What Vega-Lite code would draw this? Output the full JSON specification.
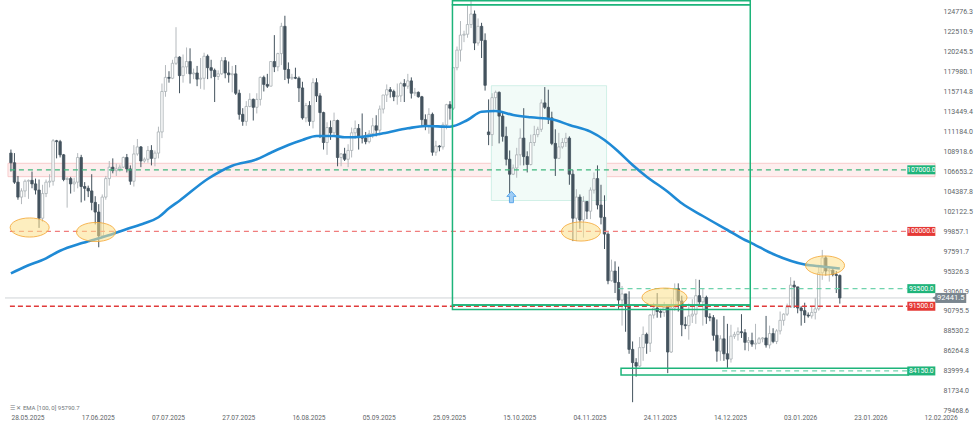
{
"$schema":"https://vega.github.io/schema/vega-lite/v6.json",
"width":940,"height":413,
"autosize":{"type":"none"},
"padding":{"left":0,"top":0,"right":37,"bottom":22},
"background":"#ffffff",
"config":{"view":{"stroke":null},"font":"Roboto","text":{"font":"Roboto"},
 "axis":{"ticks":false,"tickSize":0,"domain":false,"grid":false,"labelColor":"#606468","labelFont":"Roboto","labelOverlap":false,"labelBound":false,"labelFlush":false},
 "axisX":{"labelAlign":"left","labelBaseline":"top","labelPadding":1,"labelFontSize":6.6,"tickCount":40},
 "axisY":{"labelAlign":"left","labelBaseline":"middle","labelPadding":3,"labelOffset":-1.5,"labelFontSize":7,"tickCount":50}},
"datasets":{
"candles":[
{"d":"2025-05-28","o":108900,"h":109300,"l":106800,"c":107800},
{"d":"2025-05-29","o":107800,"h":108900,"l":105400,"c":105600},
{"d":"2025-05-30","o":105600,"h":106300,"l":103600,"c":103900},
{"d":"2025-05-31","o":103900,"h":104900,"l":103100,"c":104600},
{"d":"2025-06-01","o":104600,"h":105900,"l":103900,"c":105700},
{"d":"2025-06-02","o":105700,"h":105900,"l":103700,"c":105800},
{"d":"2025-06-03","o":105800,"h":106800,"l":104900,"c":105400},
{"d":"2025-06-04","o":105400,"h":106000,"l":104200,"c":104700},
{"d":"2025-06-05","o":104700,"h":105900,"l":100400,"c":101500},
{"d":"2025-06-06","o":101500,"h":105300,"l":101100,"c":104300},
{"d":"2025-06-07","o":104300,"h":105900,"l":103900,"c":105600},
{"d":"2025-06-08","o":105600,"h":106500,"l":105000,"c":105700},
{"d":"2025-06-09","o":105700,"h":110500,"l":105200,"c":110300},
{"d":"2025-06-10","o":110300,"h":110400,"l":108300,"c":110200},
{"d":"2025-06-11","o":110200,"h":110400,"l":108400,"c":108700},
{"d":"2025-06-12","o":108700,"h":108800,"l":105700,"c":105900},
{"d":"2025-06-13","o":105900,"h":106200,"l":102700,"c":106000},
{"d":"2025-06-14","o":106000,"h":106200,"l":104300,"c":105400},
{"d":"2025-06-15","o":105400,"h":106100,"l":104500,"c":105600},
{"d":"2025-06-16","o":105600,"h":108900,"l":104900,"c":108400},
{"d":"2025-06-17","o":108400,"h":108700,"l":103300,"c":105100},
{"d":"2025-06-18","o":105100,"h":105600,"l":103500,"c":104900},
{"d":"2025-06-19","o":104900,"h":105200,"l":103900,"c":104600},
{"d":"2025-06-20","o":104600,"h":106500,"l":102400,"c":103300},
{"d":"2025-06-21","o":103300,"h":104000,"l":100800,"c":102200},
{"d":"2025-06-22","o":102200,"h":103100,"l":98200,"c":99500},
{"d":"2025-06-23","o":99500,"h":104200,"l":99300,"c":103900},
{"d":"2025-06-24","o":103900,"h":106300,"l":103600,"c":106000},
{"d":"2025-06-25","o":106000,"h":108000,"l":105200,"c":107300},
{"d":"2025-06-26","o":107300,"h":108300,"l":106600,"c":106900},
{"d":"2025-06-27","o":106900,"h":107700,"l":106300,"c":107100},
{"d":"2025-06-28","o":107100,"h":107600,"l":106800,"c":107300},
{"d":"2025-06-29","o":107300,"h":108500,"l":107200,"c":108400},
{"d":"2025-06-30","o":108400,"h":108800,"l":106700,"c":107100},
{"d":"2025-07-01","o":107100,"h":107500,"l":105300,"c":105700},
{"d":"2025-07-02","o":105700,"h":109800,"l":105100,"c":108800},
{"d":"2025-07-03","o":108800,"h":110500,"l":108600,"c":109600},
{"d":"2025-07-04","o":109600,"h":109700,"l":107300,"c":108000},
{"d":"2025-07-05","o":108000,"h":108400,"l":107800,"c":108200},
{"d":"2025-07-06","o":108200,"h":109700,"l":107800,"c":109200},
{"d":"2025-07-07","o":109200,"h":109800,"l":107500,"c":108300},
{"d":"2025-07-08","o":108300,"h":109200,"l":107400,"c":108900},
{"d":"2025-07-09","o":108900,"h":111900,"l":108300,"c":111300},
{"d":"2025-07-10","o":111300,"h":116800,"l":110600,"c":115900},
{"d":"2025-07-11","o":115900,"h":118900,"l":115300,"c":117500},
{"d":"2025-07-12","o":117500,"h":118200,"l":116900,"c":117400},
{"d":"2025-07-13","o":117400,"h":119500,"l":117300,"c":119100},
{"d":"2025-07-14","o":119100,"h":123200,"l":118900,"c":119800},
{"d":"2025-07-15","o":119800,"h":119900,"l":115700,"c":117700},
{"d":"2025-07-16","o":117700,"h":120100,"l":116900,"c":118700},
{"d":"2025-07-17","o":118700,"h":120900,"l":117900,"c":119300},
{"d":"2025-07-18","o":119300,"h":120800,"l":116800,"c":117900},
{"d":"2025-07-19","o":117900,"h":118500,"l":117300,"c":118000},
{"d":"2025-07-20","o":118000,"h":118800,"l":116500,"c":117300},
{"d":"2025-07-21","o":117300,"h":119700,"l":116200,"c":117400},
{"d":"2025-07-22","o":117400,"h":120300,"l":116100,"c":119900},
{"d":"2025-07-23","o":119900,"h":120100,"l":117300,"c":118600},
{"d":"2025-07-24","o":118600,"h":119500,"l":117400,"c":118300},
{"d":"2025-07-25","o":118300,"h":118500,"l":114700,"c":117600},
{"d":"2025-07-26","o":117600,"h":118300,"l":117200,"c":117900},
{"d":"2025-07-27","o":117900,"h":119800,"l":117800,"c":119400},
{"d":"2025-07-28","o":119400,"h":119800,"l":117400,"c":118000},
{"d":"2025-07-29","o":118000,"h":119300,"l":116900,"c":117800},
{"d":"2025-07-30","o":117800,"h":118800,"l":115800,"c":117900},
{"d":"2025-07-31","o":117900,"h":118900,"l":115500,"c":115700},
{"d":"2025-08-01","o":115700,"h":116100,"l":112700,"c":113300},
{"d":"2025-08-02","o":113300,"h":114000,"l":112000,"c":112500},
{"d":"2025-08-03","o":112500,"h":114800,"l":112000,"c":114200},
{"d":"2025-08-04","o":114200,"h":115700,"l":114100,"c":115000},
{"d":"2025-08-05","o":115000,"h":115100,"l":112600,"c":114100},
{"d":"2025-08-06","o":114100,"h":115700,"l":113400,"c":115000},
{"d":"2025-08-07","o":115000,"h":117600,"l":114300,"c":117500},
{"d":"2025-08-08","o":117500,"h":117700,"l":115900,"c":116700},
{"d":"2025-08-09","o":116700,"h":117900,"l":116300,"c":116500},
{"d":"2025-08-10","o":116500,"h":119300,"l":116500,"c":119300},
{"d":"2025-08-11","o":119300,"h":122300,"l":118100,"c":118700},
{"d":"2025-08-12","o":118700,"h":120300,"l":118200,"c":120200},
{"d":"2025-08-13","o":120200,"h":123700,"l":118900,"c":123300},
{"d":"2025-08-14","o":123300,"h":124500,"l":117200,"c":118400},
{"d":"2025-08-15","o":118400,"h":119200,"l":116800,"c":117400},
{"d":"2025-08-16","o":117400,"h":117900,"l":117200,"c":117500},
{"d":"2025-08-17","o":117500,"h":118600,"l":117300,"c":117400},
{"d":"2025-08-18","o":117400,"h":117600,"l":114700,"c":116300},
{"d":"2025-08-19","o":116300,"h":117000,"l":112700,"c":112900},
{"d":"2025-08-20","o":112900,"h":114600,"l":112400,"c":114300},
{"d":"2025-08-21","o":114300,"h":114800,"l":112000,"c":112500},
{"d":"2025-08-22","o":112500,"h":117400,"l":111700,"c":116900},
{"d":"2025-08-23","o":116900,"h":117400,"l":114700,"c":115400},
{"d":"2025-08-24","o":115400,"h":115700,"l":110600,"c":113500},
{"d":"2025-08-25","o":113500,"h":113600,"l":109300,"c":110100},
{"d":"2025-08-26","o":110100,"h":112400,"l":108700,"c":111800},
{"d":"2025-08-27","o":111800,"h":112600,"l":110400,"c":111200},
{"d":"2025-08-28","o":111200,"h":113500,"l":110900,"c":112600},
{"d":"2025-08-29","o":112600,"h":112700,"l":107400,"c":108400},
{"d":"2025-08-30","o":108400,"h":108900,"l":107400,"c":108800},
{"d":"2025-08-31","o":108800,"h":109500,"l":108000,"c":108200},
{"d":"2025-09-01","o":108200,"h":109900,"l":107300,"c":109200},
{"d":"2025-09-02","o":109200,"h":111800,"l":108400,"c":111200},
{"d":"2025-09-03","o":111200,"h":112600,"l":110500,"c":111700},
{"d":"2025-09-04","o":111700,"h":112200,"l":109300,"c":110700},
{"d":"2025-09-05","o":110700,"h":113400,"l":110000,"c":110600},
{"d":"2025-09-06","o":110600,"h":111300,"l":109900,"c":110200},
{"d":"2025-09-07","o":110200,"h":111500,"l":110000,"c":111100},
{"d":"2025-09-08","o":111100,"h":112900,"l":110600,"c":112000},
{"d":"2025-09-09","o":112000,"h":113200,"l":110800,"c":111500},
{"d":"2025-09-10","o":111500,"h":114300,"l":110900,"c":113900},
{"d":"2025-09-11","o":113900,"h":115500,"l":113400,"c":115500},
{"d":"2025-09-12","o":115500,"h":116700,"l":114700,"c":116100},
{"d":"2025-09-13","o":116100,"h":116400,"l":115200,"c":115900},
{"d":"2025-09-14","o":115900,"h":116100,"l":114800,"c":115300},
{"d":"2025-09-15","o":115300,"h":116800,"l":114400,"c":115400},
{"d":"2025-09-16","o":115400,"h":117000,"l":114700,"c":116800},
{"d":"2025-09-17","o":116800,"h":117300,"l":114700,"c":116500},
{"d":"2025-09-18","o":116500,"h":117900,"l":116200,"c":117100},
{"d":"2025-09-19","o":117100,"h":117500,"l":115100,"c":115700},
{"d":"2025-09-20","o":115700,"h":116300,"l":115400,"c":115800},
{"d":"2025-09-21","o":115800,"h":115900,"l":115200,"c":115300},
{"d":"2025-09-22","o":115300,"h":115400,"l":111900,"c":112700},
{"d":"2025-09-23","o":112700,"h":113300,"l":111500,"c":112000},
{"d":"2025-09-24","o":112000,"h":114000,"l":111100,"c":113300},
{"d":"2025-09-25","o":113300,"h":113500,"l":108600,"c":109000},
{"d":"2025-09-26","o":109000,"h":110300,"l":108600,"c":109700},
{"d":"2025-09-27","o":109700,"h":109800,"l":109100,"c":109600},
{"d":"2025-09-28","o":109600,"h":112400,"l":109300,"c":112100},
{"d":"2025-09-29","o":112100,"h":114500,"l":111600,"c":114400},
{"d":"2025-09-30","o":114400,"h":114800,"l":112700,"c":114000},
{"d":"2025-10-01","o":114000,"h":118600,"l":113800,"c":118600},
{"d":"2025-10-02","o":118600,"h":121000,"l":118300,"c":120600},
{"d":"2025-10-03","o":120600,"h":123900,"l":119300,"c":122300},
{"d":"2025-10-04","o":122300,"h":122800,"l":121500,"c":122400},
{"d":"2025-10-05","o":122400,"h":125700,"l":122000,"c":123500},
{"d":"2025-10-06","o":123500,"h":126200,"l":123100,"c":124700},
{"d":"2025-10-07","o":124700,"h":125100,"l":120600,"c":121400},
{"d":"2025-10-08","o":121400,"h":124200,"l":121100,"c":123300},
{"d":"2025-10-09","o":123300,"h":123700,"l":119700,"c":121700},
{"d":"2025-10-10","o":121700,"h":122500,"l":116000,"c":116600},
{"d":"2025-10-11","o":111300,"h":115000,"l":109800,"c":111000},
{"d":"2025-10-12","o":111000,"h":115700,"l":109700,"c":115200},
{"d":"2025-10-13","o":115200,"h":116000,"l":113900,"c":115800},
{"d":"2025-10-14","o":115800,"h":115900,"l":110000,"c":113100},
{"d":"2025-10-15","o":113100,"h":113600,"l":110200,"c":110800},
{"d":"2025-10-16","o":110800,"h":111900,"l":107500,"c":108200},
{"d":"2025-10-17","o":108200,"h":109200,"l":103600,"c":106500},
{"d":"2025-10-18","o":106500,"h":107600,"l":106400,"c":107200},
{"d":"2025-10-19","o":107200,"h":109500,"l":106100,"c":108700},
{"d":"2025-10-20","o":108700,"h":111700,"l":107500,"c":110600},
{"d":"2025-10-21","o":110600,"h":114000,"l":107500,"c":108500},
{"d":"2025-10-22","o":108500,"h":109100,"l":106700,"c":107600},
{"d":"2025-10-23","o":107600,"h":111000,"l":107500,"c":110100},
{"d":"2025-10-24","o":110100,"h":112000,"l":109700,"c":111000},
{"d":"2025-10-25","o":111000,"h":111900,"l":110700,"c":111600},
{"d":"2025-10-26","o":111600,"h":115000,"l":111300,"c":114600},
{"d":"2025-10-27","o":114600,"h":116400,"l":113900,"c":114100},
{"d":"2025-10-28","o":114100,"h":116100,"l":112200,"c":112900},
{"d":"2025-10-29","o":112900,"h":113600,"l":109800,"c":110000},
{"d":"2025-10-30","o":110000,"h":111600,"l":106300,"c":108300},
{"d":"2025-10-31","o":108300,"h":111200,"l":108300,"c":109600},
{"d":"2025-11-01","o":109600,"h":110600,"l":109400,"c":110100},
{"d":"2025-11-02","o":110100,"h":111200,"l":109600,"c":110600},
{"d":"2025-11-03","o":110600,"h":110800,"l":105300,"c":106500},
{"d":"2025-11-04","o":106500,"h":107000,"l":98900,"c":101500},
{"d":"2025-11-05","o":101500,"h":104800,"l":98900,"c":103900},
{"d":"2025-11-06","o":103900,"h":104200,"l":100300,"c":101300},
{"d":"2025-11-07","o":101300,"h":104000,"l":99300,"c":103400},
{"d":"2025-11-08","o":103400,"h":103400,"l":101400,"c":102300},
{"d":"2025-11-09","o":102300,"h":105000,"l":101400,"c":104700},
{"d":"2025-11-10","o":104700,"h":106700,"l":104300,"c":106000},
{"d":"2025-11-11","o":106000,"h":107500,"l":102500,"c":103000},
{"d":"2025-11-12","o":103000,"h":105300,"l":100800,"c":101600},
{"d":"2025-11-13","o":101600,"h":104100,"l":98000,"c":99700},
{"d":"2025-11-14","o":99700,"h":99900,"l":94000,"c":94400},
{"d":"2025-11-15","o":94400,"h":96800,"l":94300,"c":95500},
{"d":"2025-11-16","o":95500,"h":96600,"l":93000,"c":94200},
{"d":"2025-11-17","o":94200,"h":96000,"l":91200,"c":92200},
{"d":"2025-11-18","o":92200,"h":93800,"l":89300,"c":92900},
{"d":"2025-11-19","o":92900,"h":92900,"l":88600,"c":91500},
{"d":"2025-11-20","o":91500,"h":93200,"l":86100,"c":86600},
{"d":"2025-11-21","o":86600,"h":87500,"l":80600,"c":85100},
{"d":"2025-11-22","o":85100,"h":85600,"l":83500,"c":84700},
{"d":"2025-11-23","o":84700,"h":88000,"l":84600,"c":86800},
{"d":"2025-11-24","o":86800,"h":89200,"l":85300,"c":88300},
{"d":"2025-11-25","o":88300,"h":88500,"l":86100,"c":87300},
{"d":"2025-11-26","o":87300,"h":90600,"l":86300,"c":90500},
{"d":"2025-11-27","o":90500,"h":91900,"l":90100,"c":91300},
{"d":"2025-11-28","o":91300,"h":93000,"l":90200,"c":90900},
{"d":"2025-11-29","o":90900,"h":91200,"l":90200,"c":90800},
{"d":"2025-11-30","o":90800,"h":92000,"l":90300,"c":91400},
{"d":"2025-12-01","o":91400,"h":91500,"l":83900,"c":86300},
{"d":"2025-12-02","o":86300,"h":92300,"l":86200,"c":91300},
{"d":"2025-12-03","o":91300,"h":94100,"l":91000,"c":93500},
{"d":"2025-12-04","o":93500,"h":94100,"l":90900,"c":92100},
{"d":"2025-12-05","o":92100,"h":92700,"l":88100,"c":89400},
{"d":"2025-12-06","o":89400,"h":90300,"l":88900,"c":89300},
{"d":"2025-12-07","o":89300,"h":91800,"l":87700,"c":90400},
{"d":"2025-12-08","o":90400,"h":92300,"l":89600,"c":90600},
{"d":"2025-12-09","o":90600,"h":94600,"l":89500,"c":92700},
{"d":"2025-12-10","o":92700,"h":94500,"l":91600,"c":92000},
{"d":"2025-12-11","o":92000,"h":93500,"l":89300,"c":92500},
{"d":"2025-12-12","o":92500,"h":92700,"l":89500,"c":90300},
{"d":"2025-12-13","o":90300,"h":90700,"l":89800,"c":90200},
{"d":"2025-12-14","o":90200,"h":90500,"l":87600,"c":88200},
{"d":"2025-12-15","o":88200,"h":90000,"l":85200,"c":86400},
{"d":"2025-12-16","o":86400,"h":88200,"l":85300,"c":87800},
{"d":"2025-12-17","o":87800,"h":90400,"l":85300,"c":86100},
{"d":"2025-12-18","o":86100,"h":89500,"l":84500,"c":85500},
{"d":"2025-12-19","o":85500,"h":89400,"l":85100,"c":88100},
{"d":"2025-12-20","o":88100,"h":88600,"l":87800,"c":88300},
{"d":"2025-12-21","o":88300,"h":89100,"l":87600,"c":88600},
{"d":"2025-12-22","o":88600,"h":90600,"l":87900,"c":88500},
{"d":"2025-12-23","o":88500,"h":88900,"l":86500,"c":87400},
{"d":"2025-12-24","o":87400,"h":88000,"l":86400,"c":87600},
{"d":"2025-12-25","o":87600,"h":88500,"l":86900,"c":87200},
{"d":"2025-12-26","o":87200,"h":89500,"l":86600,"c":87300},
{"d":"2025-12-27","o":87300,"h":88000,"l":87200,"c":87800},
{"d":"2025-12-28","o":87800,"h":88000,"l":87400,"c":87900},
{"d":"2025-12-29","o":87900,"h":90400,"l":86800,"c":87100},
{"d":"2025-12-30","o":87100,"h":89300,"l":86700,"c":88400},
{"d":"2025-12-31","o":88400,"h":89000,"l":87300,"c":87500},
{"d":"2026-01-01","o":87500,"h":88900,"l":87200,"c":88700},
{"d":"2026-01-02","o":88700,"h":90900,"l":88300,"c":89900},
{"d":"2026-01-03","o":89900,"h":90700,"l":89300,"c":90600},
{"d":"2026-01-04","o":90600,"h":91800,"l":90400,"c":91400},
{"d":"2026-01-05","o":91400,"h":94800,"l":91300,"c":93900},
{"d":"2026-01-06","o":93900,"h":94400,"l":91300,"c":93700},
{"d":"2026-01-07","o":93700,"h":93700,"l":90700,"c":91300},
{"d":"2026-01-08","o":91300,"h":91500,"l":89300,"c":91000},
{"d":"2026-01-09","o":91000,"h":91900,"l":89600,"c":90500},
{"d":"2026-01-10","o":90500,"h":90800,"l":90200,"c":90400},
{"d":"2026-01-11","o":90400,"h":91500,"l":90100,"c":90800},
{"d":"2026-01-12","o":90800,"h":92400,"l":90000,"c":91200},
{"d":"2026-01-13","o":91200,"h":96200,"l":91000,"c":95300},
{"d":"2026-01-14","o":95300,"h":97900,"l":94500,"c":97000},
{"d":"2026-01-15","o":97000,"h":97200,"l":95000,"c":95500},
{"d":"2026-01-16","o":95500,"h":95900,"l":94300,"c":95600},
{"d":"2026-01-17","o":95600,"h":95700,"l":94900,"c":95100},
{"d":"2026-01-18","o":95100,"h":95500,"l":93000,"c":95000},
{"d":"2026-01-19","o":95000,"h":95100,"l":91800,"c":92441.5}
],
"ema":[
{"d":"2025-05-28","p":95243},{"d":"2025-06-01","p":95993},{"d":"2025-06-07","p":96947},{"d":"2025-06-11","p":97810},
{"d":"2025-06-17","p":98651},{"d":"2025-06-22","p":99220},{"d":"2025-06-26","p":99708},{"d":"2025-06-30","p":100276},
{"d":"2025-07-05","p":100923},{"d":"2025-07-09","p":101608},{"d":"2025-07-12","p":102628},{"d":"2025-07-15","p":103491},
{"d":"2025-07-23","p":105956},{"d":"2025-07-30","p":107466},{"d":"2025-08-06","p":108193},{"d":"2025-08-10","p":108944},
{"d":"2025-08-15","p":109818},{"d":"2025-08-19","p":110386},{"d":"2025-08-23","p":110840},{"d":"2025-08-28","p":110840},
{"d":"2025-08-31","p":110693},{"d":"2025-09-05","p":110761},{"d":"2025-09-11","p":111147},{"d":"2025-09-18","p":111715},
{"d":"2025-09-23","p":111976},{"d":"2025-09-30","p":111897},{"d":"2025-10-05","p":112658},{"d":"2025-10-09","p":113601},
{"d":"2025-10-13","p":113680},{"d":"2025-10-18","p":113226},{"d":"2025-10-23","p":112965},{"d":"2025-10-29","p":112738},
{"d":"2025-11-03","p":112090},{"d":"2025-11-09","p":111329},{"d":"2025-11-13","p":110386},{"d":"2025-11-17","p":109057},
{"d":"2025-11-21","p":107546},{"d":"2025-11-25","p":106217},{"d":"2025-12-01","p":104513},{"d":"2025-12-05","p":103195},
{"d":"2025-12-11","p":101752},{"d":"2025-12-18","p":100162},{"d":"2025-12-23","p":99026},{"d":"2025-12-25","p":98651},
{"d":"2025-12-31","p":97436},{"d":"2026-01-09","p":96243},{"d":"2026-01-14","p":96016},{"d":"2026-01-19","p":95790.7}
],
"bands":[{"d":"2025-05-27T03:40:00Z","d2":"2026-02-15T02:24:00Z","p":106220,"p2":107740}],
"zone":[{"d":"2025-10-11T19:00:00Z","d2":"2025-11-13T14:00:00Z","p":103513,"p2":116555}],
"boxes":[
{"d":"2025-09-30T17:00:00Z","d2":"2025-12-24T12:00:00Z","p":125756,"p2":126210},
{"d":"2025-09-30T17:00:00Z","d2":"2025-12-24T12:00:00Z","p":91642,"p2":125756},
{"d":"2025-09-30T17:00:00Z","d2":"2025-12-24T12:00:00Z","p":91131,"p2":91642},
{"d":"2025-11-17T17:00:00Z","d2":"2026-02-07T12:00:00Z","p":83690,"p2":84452}
],
"last":[{"d":"2025-05-26T07:26:00Z","d2":"2026-02-15T02:24:00Z","p":92441.5}],
"lvlGreen":[{"d":"2025-05-27T17:00:00Z","d2":"2026-02-07T05:00:00Z","p":107000}],
"lvlRedLight":[{"d":"2025-05-27T17:00:00Z","d2":"2026-02-07T05:00:00Z","p":100000}],
"lvlRed":[{"d":"2025-05-27T17:00:00Z","d2":"2026-02-07T05:00:00Z","p":91500}],
"lvlMint":[{"d":"2025-11-17T00:00:00Z","d2":"2026-02-07T05:00:00Z","p":93500},{"d":"2025-12-16T12:00:00Z","d2":"2026-02-07T05:00:00Z","p":84150}],
"ellipses":[{"d":"2025-06-02T08:00:00Z","p":100446},{"d":"2025-06-21T05:00:00Z","p":99935},{"d":"2025-11-06T07:00:00Z","p":99992},{"d":"2026-01-14T19:00:00Z","p":96129}],
"ellipseWide":[{"d":"2025-11-30T02:00:00Z","p":92494}],
"arrow":[{"d":"2025-10-17T12:00:00Z","p":103911}],
"tags":[{"p":107000,"t":"107000.0","s":"g"},{"p":100000,"t":"100000.0","s":"r"},{"p":93500,"t":"93500.0","s":"g"},{"p":91500,"t":"91500.0","s":"r"},{"p":84150,"t":"84150.0","s":"g"}]
},
"layer":[
{"data":{"name":"bands"},"mark":{"type":"rect","fill":"#fdeeee","stroke":"#f6c2c2","strokeWidth":0.8},
 "encoding":{
  "x":{"field":"d","type":"temporal","scale":{"type":"utc","domain":[{"year":2025,"month":5,"date":26,"hours":7,"minutes":26,"utc":true},{"year":2026,"month":2,"date":15,"hours":2,"minutes":24,"utc":true}]},
   "axis":{"orient":"bottom","title":null,"format":"%d.%m.%Y","tickCount":40,
    "values":[{"year":2025,"month":5,"date":28,"utc":true},{"year":2025,"month":6,"date":17,"utc":true},{"year":2025,"month":7,"date":7,"utc":true},{"year":2025,"month":7,"date":27,"utc":true},{"year":2025,"month":8,"date":16,"utc":true},{"year":2025,"month":9,"date":5,"utc":true},{"year":2025,"month":9,"date":25,"utc":true},{"year":2025,"month":10,"date":15,"utc":true},{"year":2025,"month":11,"date":4,"utc":true},{"year":2025,"month":11,"date":24,"utc":true},{"year":2025,"month":12,"date":14,"utc":true},{"year":2026,"month":1,"date":3,"utc":true},{"year":2026,"month":1,"date":23,"utc":true},{"year":2026,"month":2,"date":12,"utc":true}],
    "labelAlign":"left","labelBaseline":"top","labelPadding":1,"labelFontSize":6.6,"labelOverlap":false}},
  "x2":{"field":"d2"},
  "y":{"field":"p","type":"quantitative","scale":{"domain":[79373,126290],"nice":false,"zero":false},
   "axis":{"orient":"right","title":null,"format":".1f","tickCount":50,
    "values":[124776.3,122510.9,120245.5,117980.1,115714.8,113449.4,111184.0,108918.6,106653.2,104387.8,102122.5,99857.1,97591.7,95326.3,93060.9,90795.5,88530.2,86264.8,83999.4,81734.0,79468.6],
    "labelAlign":"left","labelBaseline":"middle","labelPadding":3,"labelOffset":-1.5,"labelFontSize":7,"labelOverlap":false}},
  "y2":{"field":"p2"}}},
{"data":{"name":"zone"},"mark":{"type":"rect","fill":"#f2fbf8","stroke":"#c6ece2","strokeWidth":0.8},
 "encoding":{"x":{"field":"d","type":"temporal"},"x2":{"field":"d2"},"y":{"field":"p","type":"quantitative"},"y2":{"field":"p2"}}},
{"data":{"name":"last"},"mark":{"type":"rule","stroke":"#cfd3d6","strokeWidth":1},
 "encoding":{"x":{"field":"d","type":"temporal"},"x2":{"field":"d2"},"y":{"field":"p","type":"quantitative"}}},
{"data":{"name":"candles"},"mark":{"type":"rule","strokeWidth":1},
 "encoding":{"x":{"field":"d","type":"temporal"},"y":{"field":"l","type":"quantitative"},"y2":{"field":"h"},
  "stroke":{"condition":{"test":"datum.c >= datum.o","value":"#b4b9bd"},"value":"#44535e"}}},
{"data":{"name":"candles"},"mark":{"type":"bar","width":2.4,"strokeWidth":0.8},
 "encoding":{"x":{"field":"d","type":"temporal"},"y":{"field":"o","type":"quantitative"},"y2":{"field":"c"},
  "fill":{"condition":{"test":"datum.c >= datum.o","value":"#ffffff"},"value":"#44535e"},
  "stroke":{"condition":{"test":"datum.c >= datum.o","value":"#a7aeb3"},"value":"#44535e"}}},
{"data":{"name":"lvlGreen"},"mark":{"type":"rule","stroke":"#3fb77c","strokeWidth":1.2,"strokeDash":[5,4]},
 "encoding":{"x":{"field":"d","type":"temporal"},"x2":{"field":"d2"},"y":{"field":"p","type":"quantitative"}}},
{"data":{"name":"lvlRedLight"},"mark":{"type":"rule","stroke":"#f07d7d","strokeWidth":1.2,"strokeDash":[5,4]},
 "encoding":{"x":{"field":"d","type":"temporal"},"x2":{"field":"d2"},"y":{"field":"p","type":"quantitative"}}},
{"data":{"name":"lvlRed"},"mark":{"type":"rule","stroke":"#e03a3a","strokeWidth":1.6,"strokeDash":[5,3]},
 "encoding":{"x":{"field":"d","type":"temporal"},"x2":{"field":"d2"},"y":{"field":"p","type":"quantitative"}}},
{"data":{"name":"lvlMint"},"mark":{"type":"rule","stroke":"#6fd3ad","strokeWidth":1.2,"strokeDash":[5,4]},
 "encoding":{"x":{"field":"d","type":"temporal"},"x2":{"field":"d2"},"y":{"field":"p","type":"quantitative"}}},
{"data":{"name":"ema"},"mark":{"type":"line","stroke":"#1f8ad5","strokeWidth":2.6,"interpolate":"monotone"},
 "encoding":{"x":{"field":"d","type":"temporal"},"y":{"field":"p","type":"quantitative"}}},
{"data":{"name":"boxes"},"mark":{"type":"rect","fill":null,"fillOpacity":0,"stroke":"#1db47a","strokeWidth":1.5},
 "encoding":{"x":{"field":"d","type":"temporal"},"x2":{"field":"d2"},"y":{"field":"p","type":"quantitative"},"y2":{"field":"p2"}}},
{"data":{"name":"arrow"},"mark":{"type":"point","shape":"M 0 -1 L 0.8 -0.1 L 0.35 -0.1 L 0.35 1 L -0.35 1 L -0.35 -0.1 L -0.8 -0.1 Z","filled":true,"fill":"#9fcdf5","stroke":"#5ea8ea","strokeWidth":1,"size":130,"opacity":1},
 "encoding":{"x":{"field":"d","type":"temporal"},"y":{"field":"p","type":"quantitative"}}},
{"data":{"name":"ellipses"},"mark":{"type":"point","shape":"M -1 0 A 1 0.49 0 1 0 1 0 A 1 0.49 0 1 0 -1 0 Z","filled":true,"fill":"#fbe08a","fillOpacity":0.55,"stroke":"#f4a93a","strokeWidth":1,"strokeOpacity":0.85,"size":1521,"opacity":1},
 "encoding":{"x":{"field":"d","type":"temporal"},"y":{"field":"p","type":"quantitative"}}},
{"data":{"name":"ellipseWide"},"mark":{"type":"point","shape":"M -1 0 A 1 0.42 0 1 0 1 0 A 1 0.42 0 1 0 -1 0 Z","filled":true,"fill":"#fbe08a","fillOpacity":0.55,"stroke":"#f4a93a","strokeWidth":1,"strokeOpacity":0.85,"size":2025,"opacity":1},
 "encoding":{"x":{"field":"d","type":"temporal"},"y":{"field":"p","type":"quantitative"}}},
{"data":{"name":"tags"},"mark":{"type":"tick","orient":"horizontal","size":28,"thickness":9,"opacity":1},
 "encoding":{"x":{"datum":{"year":2026,"month":2,"date":11,"hours":5,"utc":true},"type":"temporal"},"y":{"field":"p","type":"quantitative"},
  "color":{"field":"s","type":"nominal","scale":{"domain":["g","r"],"range":["#1fb47a","#e53935"]},"legend":null}}},
{"data":{"name":"tags"},"mark":{"type":"text","fill":"#ffffff","fontSize":6.8,"align":"center","baseline":"middle","font":"Roboto"},
 "encoding":{"x":{"datum":{"year":2026,"month":2,"date":11,"hours":5,"utc":true},"type":"temporal"},"y":{"field":"p","type":"quantitative"},"text":{"field":"t"}}},
{"data":{"name":"last"},"mark":{"type":"point","shape":"triangle-left","filled":true,"fill":"#7a868f","size":70,"opacity":1},
 "encoding":{"x":{"datum":{"year":2026,"month":2,"date":15,"hours":8,"utc":true},"type":"temporal"},"y":{"field":"p","type":"quantitative"}}},
{"data":{"name":"last"},"mark":{"type":"tick","orient":"horizontal","size":31,"thickness":10,"color":"#7a868f","opacity":1},
 "encoding":{"x":{"datum":{"year":2026,"month":2,"date":19,"hours":14,"utc":true},"type":"temporal"},"y":{"field":"p","type":"quantitative"}}},
{"data":{"name":"last"},"mark":{"type":"text","fill":"#ffffff","fontSize":7.5,"align":"center","baseline":"middle","font":"Roboto"},
 "encoding":{"x":{"datum":{"year":2026,"month":2,"date":19,"hours":14,"utc":true},"type":"temporal"},"y":{"field":"p","type":"quantitative"},"text":{"value":"92441.5"}}},
{"data":{"values":[{"t":"☰ ✕ EMA [100, 0] 95790.7"}]},"mark":{"type":"text","fill":"#70767b","fontSize":6,"align":"left","baseline":"middle","font":"Roboto"},
 "encoding":{"x":{"datum":{"year":2025,"month":5,"date":27,"hours":17,"utc":true},"type":"temporal"},"y":{"datum":79941,"type":"quantitative"},"text":{"field":"t"}}}
]
}
